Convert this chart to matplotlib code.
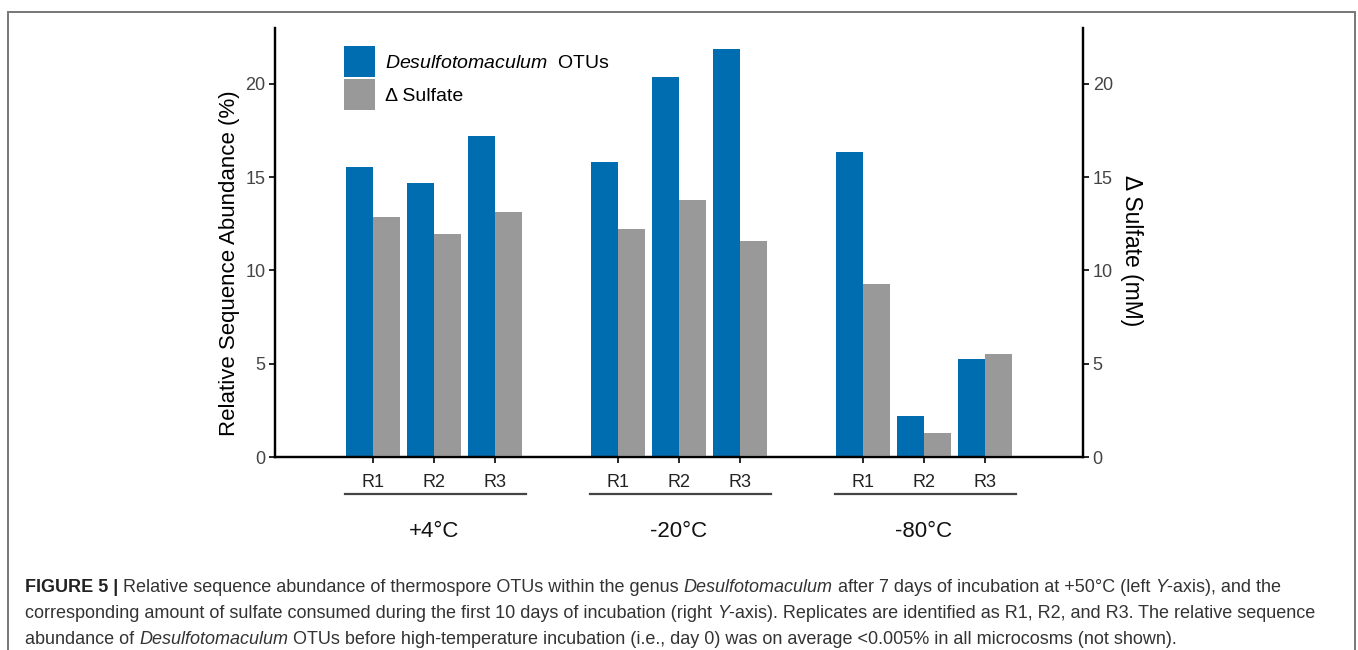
import matplotlib
matplotlib.use("Agg")
import numpy as np
import matplotlib.pyplot as plt
from matplotlib.patches import Patch, Rectangle
from matplotlib.transforms import blended_transform_factory

# ------------------------------------------------------------
# Data
# ------------------------------------------------------------

groups = ["+4°C", "-20°C", "-80°C"]
replicates = ["R1", "R2", "R3"]

# Desulfotomaculum OTUs, relative sequence abundance (%)
otus = [15.55, 14.70, 17.22,
        15.83, 20.35, 21.88,
        16.36, 2.21, 5.23]

# Delta sulfate (mM)
sulfate = [12.88, 11.93, 13.11,
           12.20, 13.77, 11.56,
           9.30, 1.30, 5.50]

y_ticks = [0, 5, 10, 15, 20]

caption = [
    [("FIGURE 5 | ", "bold"),
     ("Relative sequence abundance of thermospore OTUs within the genus ", "normal"),
     ("Desulfotomaculum", "italic"),
     (" after 7 days of incubation at +50°C (left ", "normal"),
     ("Y", "italic"),
     ("-axis), and the", "normal")],
    [("corresponding amount of sulfate consumed during the first 10 days of incubation (right ", "normal"),
     ("Y", "italic"),
     ("-axis). Replicates are identified as R1, R2, and R3. The relative sequence", "normal")],
    [("abundance of ", "normal"),
     ("Desulfotomaculum", "italic"),
     (" OTUs before high-temperature incubation (i.e., day 0) was on average <0.005% in all microcosms (not shown).", "normal")],
]

# ------------------------------------------------------------
# Style
# ------------------------------------------------------------

blue = "#006db0"
grey = "#999999"
plt.rcParams["font.family"] = ["Liberation Sans", "DejaVu Sans"]
plt.rcParams["mathtext.fontset"] = "custom"
plt.rcParams["mathtext.it"] = "Liberation Sans:italic"
plt.rcParams["mathtext.rm"] = "Liberation Sans"

# bar slots: three per group, one empty slot between groups
pos = np.array([g * 4 + r for g in range(len(groups)) for r in range(len(replicates))], dtype=float)
w = 0.44

fig = plt.figure(figsize=(13.58, 6.5), dpi=100)
ax = fig.add_axes([0.2025, 0.2969, 0.5950, 0.6600])
ax2 = ax.twinx()

ax.bar(pos, otus, width=-w, align="edge", color=blue, zorder=2)
ax2.bar(pos, sulfate, width=w, align="edge", color=grey, zorder=2)

for a in (ax, ax2):
    a.set_xlim(pos[0] - 1.6, pos[-1] + 1.6)
    a.set_ylim(0, 23)
    a.set_yticks(y_ticks)
    a.spines["top"].set_visible(False)
    for s in ("left", "right", "bottom"):
        a.spines[s].set_linewidth(1.6)
        a.spines[s].set_color("black")
    a.tick_params(axis="y", length=4, width=1.2, pad=3, labelsize=13,
                  labelcolor="#444444", color="black")

ax.set_xticks(pos)
ax.set_xticklabels(replicates * len(groups), fontsize=13, color="#222222")
ax.tick_params(axis="x", length=4, width=1.2, pad=8)

ax.set_ylabel("Relative Sequence Abundance (%)", fontsize=16, labelpad=4)
ax2.set_ylabel("Δ Sulfate (mM)", fontsize=16.5, rotation=270, labelpad=22)
# labels sit a bit below the axis centre in the original
ax.yaxis.label.set_y(0.452)
ax2.yaxis.label.set_y(0.481)

# group underlines and group names
tr = blended_transform_factory(ax.transData, ax.transAxes)
for g, name in enumerate(groups):
    x0 = pos[g * 3] - 0.45
    x1 = pos[g * 3 + 2] + 0.5
    ax.plot([x0, x1], [-0.086, -0.086], color="#444444", lw=1.6,
            transform=tr, clip_on=False)
    ax.text(pos[g * 3 + 1], -0.173, name, transform=tr, ha="center", va="center",
            fontsize=16, color="#111111")

# legend
handles = [Patch(facecolor=blue), Patch(facecolor=grey)]
labels = [r"$\mathit{Desulfotomaculum}$  OTUs", "Δ Sulfate"]
ax.legend(handles, labels, loc="upper left", bbox_to_anchor=(0.0854, 0.958),
          frameon=False, fontsize=14, handlelength=1.6, handleheight=2.07,
          labelspacing=0.12, handletextpad=0.5, borderpad=0, borderaxespad=0)

# outer frame
fig.add_artist(Rectangle((8 / 1358, -0.1), 1347 / 1358, 1.1 - 12 / 650,
                         transform=fig.transFigure, fill=False,
                         edgecolor="#777777", lw=1.4))

# caption
fig.canvas.draw()
renderer = fig.canvas.get_renderer()


def text_width(s, **kw):
    t = fig.text(0, 0, s, **kw)
    wpx = t.get_window_extent(renderer).width
    t.remove()
    return wpx


cap_kw = dict(fontsize=13, color="#333333", va="center")
space = text_width("x x", **cap_kw) - text_width("xx", **cap_kw)
line_y = [587, 613, 639]

for row, y in zip(caption, line_y):
    x = 25.0
    for s, style in row:
        kw = dict(cap_kw)
        if style == "bold":
            kw["fontweight"] = "bold"
            kw["color"] = "#222222"
        elif style == "italic":
            kw["fontstyle"] = "italic"
        if s.startswith(" "):
            x += space
        core = s.strip()
        t = fig.text(x / 1358, 1 - y / 650, core, **kw)
        x += t.get_window_extent(renderer).width
        if s.endswith(" "):
            x += space

fig.savefig("out.png", dpi=100)
